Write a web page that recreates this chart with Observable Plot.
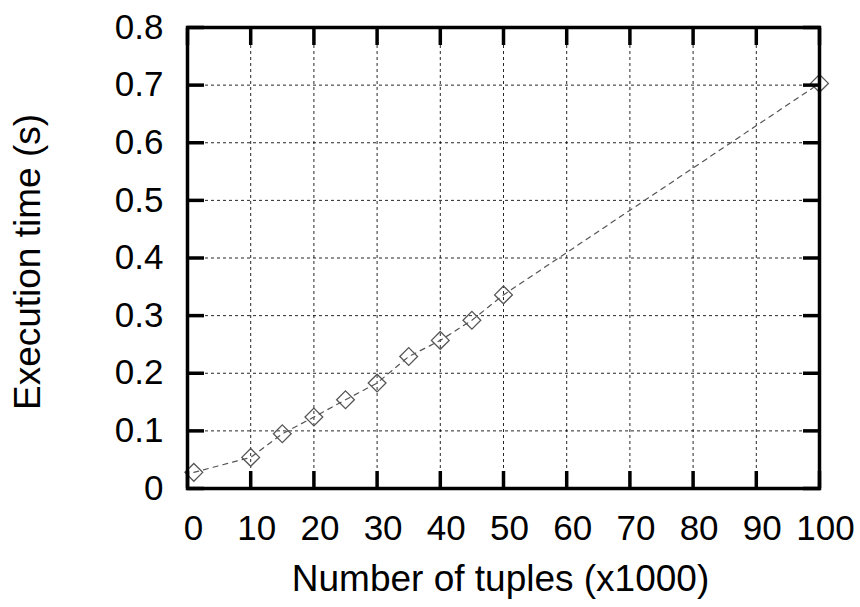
<!DOCTYPE html>
<html><head><meta charset="utf-8">
<script src="https://cdn.jsdelivr.net/npm/d3@7"></script>
<script src="https://cdn.jsdelivr.net/npm/@observablehq/plot@0.6"></script>
<style>html,body{margin:0;padding:0;background:#fff}</style>
</head><body><div id="chart"></div>
<script>
const tuples = [1, 10, 15, 20, 25, 30, 35, 40, 45, 50, 100];
const times = [0.028, 0.054, 0.095, 0.124, 0.154, 0.183, 0.229, 0.257, 0.292, 0.336, 0.703];
const xTicks = [0, 10, 20, 30, 40, 50, 60, 70, 80, 90, 100];
const yTicks = [0, 0.1, 0.2, 0.3, 0.4, 0.5, 0.6, 0.7, 0.8];
const xLabel = "Number of tuples (x1000)";
const yLabel = "Execution time (s)";

const data = tuples.map((x, i) => ({x, y: times[i]}));
const tickStyle = {stroke: "#000", strokeWidth: 3.5, fill: "none", label: null, tickSize: 17};
const textStyle = {stroke: "none", fill: "#000", tickSize: 0, fontSize: 35, label: null};

const chart = Plot.plot({
  width: 860, height: 607,
  marginLeft: 187, marginTop: 27, marginRight: 41, marginBottom: 119,
  style: {fontFamily: "'Liberation Sans', Arial, sans-serif", background: "#fff", color: "#000"},
  x: {domain: [0, 100]},
  y: {domain: [0, 0.8]},
  marks: [
    Plot.gridX(xTicks, {stroke: "#000", strokeOpacity: 0.85, strokeWidth: 1, strokeDasharray: "3,3"}),
    Plot.gridY(yTicks, {stroke: "#000", strokeOpacity: 0.85, strokeWidth: 1, strokeDasharray: "3,3"}),
    Plot.line(data, {x: "x", y: "y", stroke: "#555", strokeWidth: 1.2, strokeDasharray: "5,5"}),
    Plot.dot(data, {x: "x", y: "y", symbol: "diamond2", r: 8, stroke: "#555", fill: "none", strokeWidth: 1.3}),
    Plot.frame({stroke: "#000", strokeWidth: 3.5}),
    Plot.axisX(xTicks, {...tickStyle, anchor: "bottom", dy: -17}),
    Plot.axisX(xTicks, {...tickStyle, anchor: "top", dy: 17}),
    Plot.axisY(yTicks, {...tickStyle, anchor: "left", dx: 17}),
    Plot.axisY(yTicks, {...tickStyle, anchor: "right", dx: -17}),
    Plot.axisX(xTicks, {...textStyle, anchor: "bottom", tickPadding: 27, dx: 6, tickFormat: d => String(d)}),
    Plot.axisY(yTicks, {...textStyle, anchor: "left", tickPadding: 24, tickFormat: d => d === 0 ? "0" : d.toFixed(1)}),
    Plot.text([xLabel], {text: d => d, frameAnchor: "bottom", dy: 91, dx: -3, fontSize: 37, textAnchor: "middle", lineAnchor: "middle", fill: "#000"}),
    Plot.text([yLabel], {text: d => d, frameAnchor: "left", dx: -159, dy: 4, rotate: -90, fontSize: 37, textAnchor: "middle", lineAnchor: "middle", fill: "#000"})
  ]
});
document.getElementById("chart").appendChild(chart);
</script>
</body></html>
